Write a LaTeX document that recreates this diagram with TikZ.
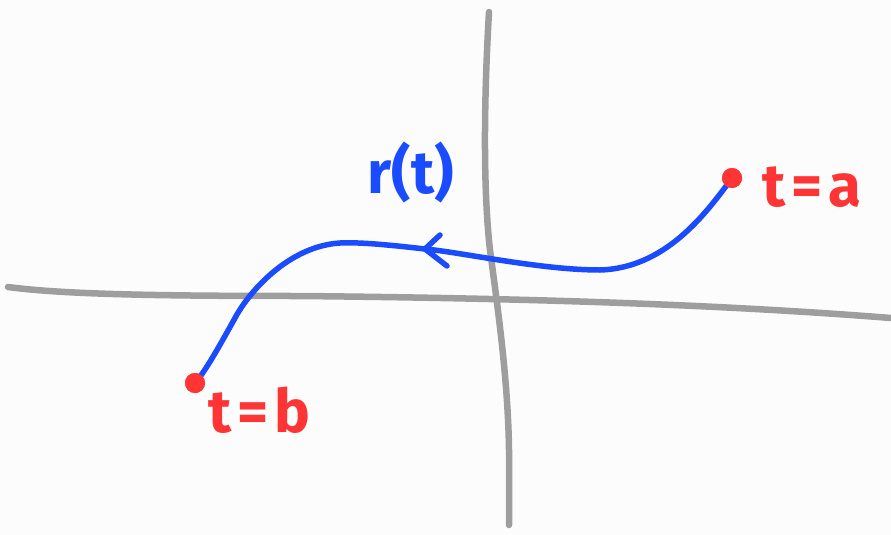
\documentclass[tikz,border=0pt]{standalone}
\usepackage{fontspec}
\setmainfont{Fira Sans}
\definecolor{axisgray}{HTML}{9E9E9E}
\definecolor{penblue}{HTML}{1A4BFF}
\definecolor{penred}{HTML}{FF3535}
\definecolor{paper}{HTML}{FCFCFC}
\tikzset{
  axis/.style={draw=axisgray, line width=6.5pt, line cap=round, line join=round},
  curve/.style={draw=penblue, line width=5.5pt, line cap=round, line join=round},
  dot/.style={circle, fill=penred, inner sep=0pt, minimum size=20pt},
  redlbl/.style={text=penred, font=\bfseries\fontsize{60}{60}\selectfont, inner sep=0pt, anchor=west},
  bluelbl/.style={text=penblue, font=\bfseries\fontsize{60}{60}\selectfont, inner sep=0pt},
}
\begin{document}
\begin{tikzpicture}[x=1pt,y=-1pt]
\fill[paper] (0,0) rectangle (891,535);
\useasboundingbox (0,0) rectangle (891,535);
% axes
\draw[axis] (8,287) .. controls (60,294) and (150,296) .. (300,296)
  .. controls (500,298) and (700,303) .. (891,318);
\draw[axis] (489,12) .. controls (485,80) and (482,180) .. (490,250)
  .. controls (498,310) and (508,380) .. (509,450) -- (509,525);
% points
\node[dot] (a) at (732,178) {};
\node[dot] (b) at (195,383) {};
% curve
\draw[curve] (a.center) .. controls (705,215) and (665,268) .. (600,270)
  .. controls (540,270) and (460,252) .. (425,249)
  coordinate (tip)
  .. controls (390,245) and (360,242) .. (340,243)
  .. controls (290,246) and (250,290) .. (235,318)
  .. controls (220,345) and (205,372) .. (b.center);
\draw[curve] (440,235) -- (tip) -- (447,266);
\node[dot] at (a) {};
\node[dot] at (b) {};
% labels
\node[redlbl] (la) at (762,187) {t\kern6pt=\kern6pt a};
\node[redlbl] (lb) at (208,410) {t\kern6pt=\kern6pt b};
\node[bluelbl] (lr) at (411,172) {r(t)};
\end{tikzpicture}
\end{document}
